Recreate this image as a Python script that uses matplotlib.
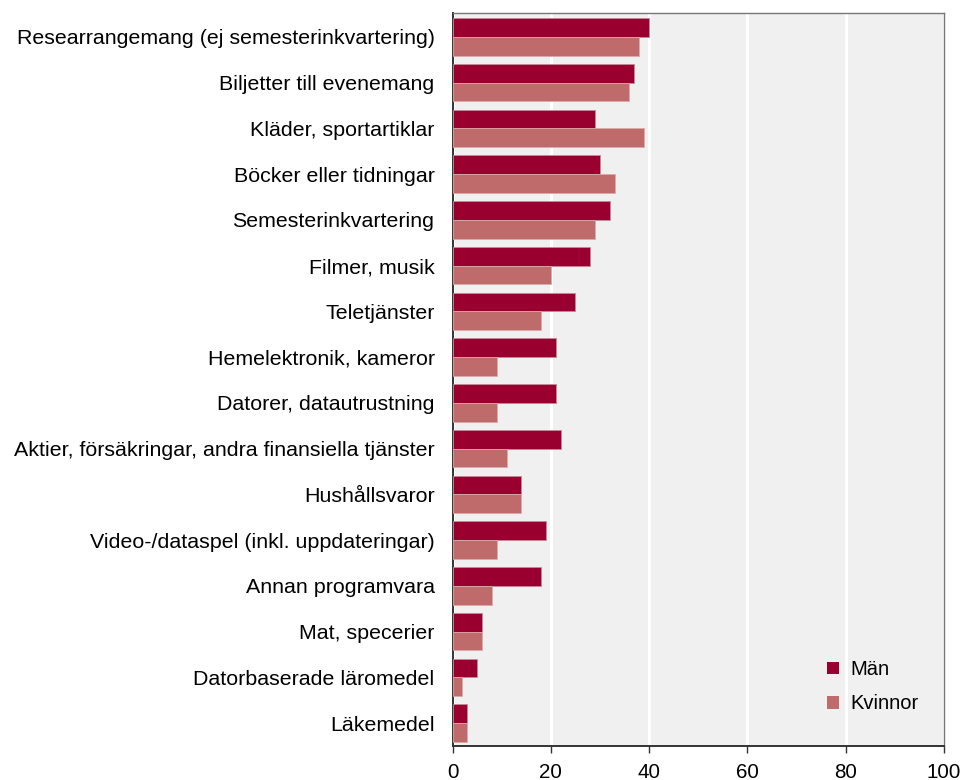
import numpy as np
import matplotlib
matplotlib.use("Agg")
import matplotlib.pyplot as plt

# data (percent)
categories = [
    "Researrangemang (ej semesterinkvartering)",
    "Biljetter till evenemang",
    "Kläder, sportartiklar",
    "Böcker eller tidningar",
    "Semesterinkvartering",
    "Filmer, musik",
    "Teletjänster",
    "Hemelektronik, kameror",
    "Datorer, datautrustning",
    "Aktier, försäkringar, andra finansiella tjänster",
    "Hushållsvaror",
    "Video-/dataspel (inkl. uppdateringar)",
    "Annan programvara",
    "Mat, specerier",
    "Datorbaserade läromedel",
    "Läkemedel",
]
man = [40, 37, 29, 30, 32, 28, 25, 21, 21, 22, 14, 19, 18, 6, 5, 3]
kvinnor = [38, 36, 39, 33, 29, 20, 18, 9, 9, 11, 14, 9, 8, 6, 2, 3]
xticks = [0, 20, 40, 60, 80, 100]

plt.rcParams['font.family'] = ['Liberation Sans', 'DejaVu Sans']

fig = plt.figure(figsize=(9.63, 7.80), dpi=100)
ax = fig.add_axes([0.470, 0.0436, 0.510, 0.9397])
ax.set_facecolor('#f0f0f0')

y = np.arange(len(categories))
h = 0.41
ax.barh(y - h / 2, man, height=h, color='#990030', edgecolor='#c7889a',
        linewidth=0.6, label='Män', zorder=3)
ax.barh(y + h / 2, kvinnor, height=h, color='#c06b6b', edgecolor='#dba9a9',
        linewidth=0.6, label='Kvinnor', zorder=3)

ax.set_xlim(0, 100)
ax.set_ylim(len(categories) - 0.5, -0.52)
ax.set_xticks(xticks)
ax.set_xticklabels([str(t) for t in xticks], fontsize=14.8)
ax.set_yticks(y)
ax.set_yticklabels(categories, fontsize=15.4)
ax.tick_params(axis='y', length=0, pad=13)
ax.tick_params(axis='x', length=5, width=1, color='#333333', pad=7)
ax.xaxis.grid(True, color='white', linewidth=2.2, zorder=1)
ax.set_axisbelow(True)

for side in ['left', 'bottom']:
    ax.spines[side].set_color('#333333')
    ax.spines[side].set_linewidth(1.4)
for side in ['top', 'right']:
    ax.spines[side].set_color('#777777')
    ax.spines[side].set_linewidth(1.0)

leg = ax.legend(loc='lower right', bbox_to_anchor=(0.985, 0.02), frameon=False,
                fontsize=14.5, handlelength=0.6, handleheight=0.6,
                handletextpad=0.55, labelspacing=0.75)
for p in leg.get_patches():
    p.set_linewidth(0)

fig.savefig('out.png', dpi=100)
